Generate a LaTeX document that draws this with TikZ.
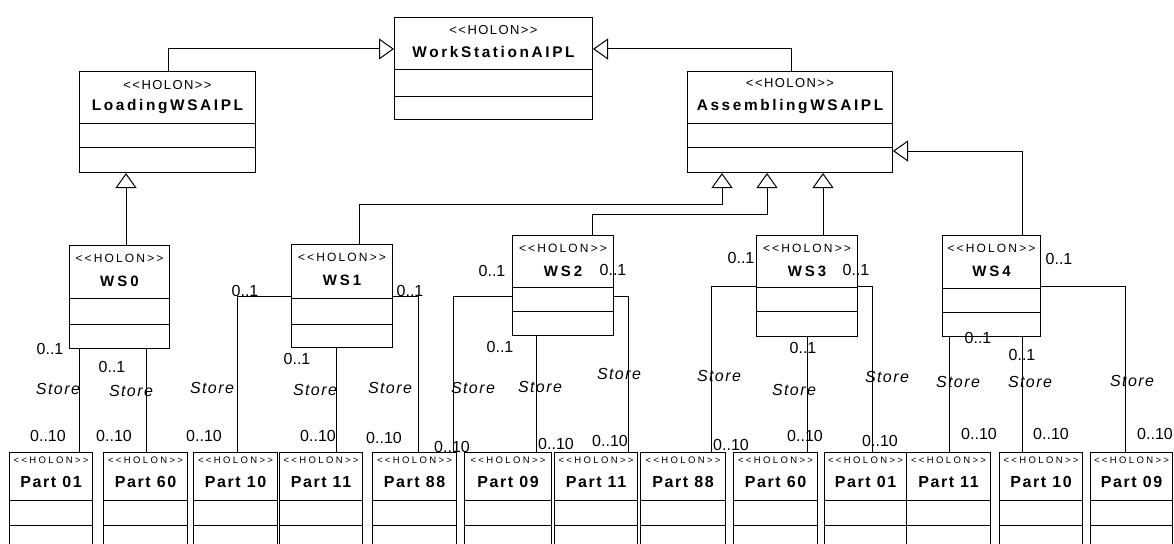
\documentclass[tikz,border=0pt]{standalone}
\usepackage{fontspec}
\setmainfont{Liberation Sans}
\usetikzlibrary{arrows.meta, positioning}

\begin{document}
\begin{tikzpicture}[x=1pt, y=-1pt,
    box/.style={draw, line width=1pt, anchor=north west, inner sep=0pt},
    stereo/.style={font=\fontsize{13}{14}\selectfont\addfontfeatures{LetterSpace=11}, inner sep=0pt},
    bigname/.style={font=\fontsize{15.4}{16}\selectfont\bfseries\addfontfeatures{LetterSpace=17}, inner sep=0pt},
    wsstereo/.style={font=\fontsize{12}{13}\selectfont\addfontfeatures{LetterSpace=18}, inner sep=0pt},
    wsname/.style={font=\fontsize{15}{16}\selectfont\bfseries\addfontfeatures{LetterSpace=20}, inner sep=0pt},
    partstereo/.style={font=\fontsize{9.5}{10}\selectfont\addfontfeatures{LetterSpace=25}, inner sep=0pt},
    partname/.style={font=\fontsize{16}{17}\selectfont\bfseries\addfontfeatures{LetterSpace=10}, inner sep=0pt},
    mult/.style={font=\fontsize{16}{17}\selectfont, inner sep=0pt},
    role/.style={font=\fontsize{16}{17}\selectfont\itshape\addfontfeatures{LetterSpace=9}, inner sep=0pt},
    gen/.style={line width=1pt, -{Triangle[open, length=15pt, width=21pt]}},
    assoc/.style={line width=1pt}]
    \useasboundingbox (0,0) rectangle (1174,543);
    \fill[white] (0,0) rectangle (1174,543);
    \clip (0,0) rectangle (1174,543);

    % abstract holons
    \node[box, minimum width=198pt, minimum height=102pt] (wsa) at (394,17) {};
    \node[box, minimum width=176pt, minimum height=101pt] (load) at (79,71) {};
    \node[box, minimum width=205pt, minimum height=101pt] (asm) at (687,71) {};
    \node[stereo] (wsa-s) at ([yshift=-13pt]wsa.north) {<{}<HOLON>{}>};
    \node[bigname] (wsa-n) at ([yshift=-35pt]wsa.north) {WorkStationAIPL};
    \node[stereo] (load-s) at ([yshift=-14pt]load.north) {<{}<HOLON>{}>};
    \node[bigname] (load-n) at ([yshift=-36pt]load.north) {LoadingWSAIPL};
    \node[stereo] (asm-s) at ([yshift=-12pt]asm.north) {<{}<HOLON>{}>};
    \node[bigname] (asm-n) at ([yshift=-36pt]asm.north) {AssemblingWSAIPL};

    % work stations
    \node[box, minimum width=100pt, minimum height=103pt] (ws0) at (69,245) {};
    \node[box, minimum width=101pt, minimum height=103pt] (ws1) at (291,244) {};
    \node[box, minimum width=101pt, minimum height=100pt] (ws2) at (512,235) {};
    \node[box, minimum width=101pt, minimum height=101pt] (ws3) at (756,235) {};
    \node[box, minimum width=98pt, minimum height=101pt] (ws4) at (942,235) {};
    \foreach \n/\t in {ws0/0, ws1/1, ws2/2, ws3/3, ws4/4} {
      \node[wsstereo] (\n-s) at ([yshift=-13pt]\n.north) {<{}<HOLON>{}>};
      \node[wsname] (\n-n) at ([yshift=-36pt]\n.north) {WS\t};
    }
    \foreach \n/\a/\b in {wsa/52/79, load/52/76, asm/52/76, ws0/53/79, ws1/54/80, ws2/52/76, ws3/52/76, ws4/53/77} {
      \draw[line width=1pt] ([yshift=-\a pt]\n.north west) -- ([yshift=-\a pt]\n.north east);
      \draw[line width=1pt] ([yshift=-\b pt]\n.north west) -- ([yshift=-\b pt]\n.north east);
    }

    % parts
    \foreach \n/\x/\w/\t in {p01/9/83/01, p60/103/84/60, p10/193/84/10, p11/279/83/11, p88/372/84/88,
        p09/464/87/09, p11b/554/83/11, p88b/640/85/88, p60b/733/84/60, p01b/824/82/01,
        p11c/906/84/11, p10c/999/83/10, p09c/1090/82/09} {
      \node[box, minimum width=\w pt, minimum height=100pt] (\n) at (\x,452) {};
      \node[partstereo] (\n-s) at ([yshift=-8pt]\n.north) {<{}<HOLON>{}>};
      \node[partname] (\n-n) at ([yshift=-30pt]\n.north) {Part \t};
      \draw[line width=1pt] ([yshift=-48pt]\n.north west) -- ([yshift=-48pt]\n.north east);
      \draw[line width=1pt] ([yshift=-73pt]\n.north west) -- ([yshift=-73pt]\n.north east);
    }

    % generalisations
    \draw[gen] (load.north -| 168,0) |- (wsa.west |- 0,49);
    \draw[gen] (asm.north -| 791,0) |- (wsa.east |- 0,49);
    \draw[gen] (ws0.north -| 126,0) -- (load.south -| 126,0);
    \draw[gen] (ws1.north -| 359,0) |- (722,204) -- (asm.south -| 722,0);
    \draw[gen] (ws2.north -| 592,0) |- (767,214) -- (asm.south -| 767,0);
    \draw[gen] (ws3.north -| 823,0) -- (asm.south -| 823,0);
    \draw[gen] (ws4.north -| 1022,0) |- (asm.east |- 0,151);

    % Store associations
    \draw[assoc] (ws0.south -| 79,0) -- (p01.north -| 79,0);
    \draw[assoc] (ws0.south -| 146,0) -- (p60.north -| 146,0);
    \draw[assoc] (ws1.west |- 0,296) -| (p10.north -| 237,0);
    \draw[assoc] (ws1.south -| 336,0) -- (p11.north -| 336,0);
    \draw[assoc] (ws1.east |- 0,296) -| (p88.north -| 418,0);
    \draw[assoc] (ws2.west |- 0,296) -| (p88.north -| 453,0);
    \draw[assoc] (ws2.south -| 536,0) -- (p09.north -| 536,0);
    \draw[assoc] (ws2.east |- 0,296) -| (p11b.north -| 628,0);
    \draw[assoc] (ws3.west |- 0,286) -| (p88b.north -| 711,0);
    \draw[assoc] (ws3.south -| 807,0) -- (p60b.north -| 807,0);
    \draw[assoc] (ws3.east |- 0,286) -| (p01b.north -| 872,0);
    \draw[assoc] (ws4.south -| 949,0) -- (p11c.north -| 949,0);
    \draw[assoc] (ws4.south -| 1022,0) -- (p10c.north -| 1022,0);
    \draw[assoc] (ws4.east |- 0,286) -| (p09c.north -| 1125,0);

    % multiplicities and roles
    \foreach \x/\y [count=\i] in {50/349, 112/367, 245/291, 297/359, 410/291, 492/271, 500/347,
        613/270, 741/258, 803/348, 856/270, 1059/259, 978/338, 1022/355}
      \node[mult] (one\i) at (\x,\y) {0..1};
    \foreach \x/\y [count=\i] in {58/389, 131/391, 212/388, 315/390, 390/388, 473/388, 540/387,
        619/374, 719/376, 794/390, 887/377, 1132/381, 958/382, 1030/382}
      \node[role] (store\i) at (\x,\y) {Store};
    \foreach \x/\y [count=\i] in {48/436, 114/436, 204/436, 318/436, 384/438, 452/447, 556/444,
        610/441, 731/445, 805/436, 880/441, 1155/434, 979/434, 1051/434}
      \node[mult] (ten\i) at (\x,\y) {0..10};
  \end{tikzpicture}
\end{document}
